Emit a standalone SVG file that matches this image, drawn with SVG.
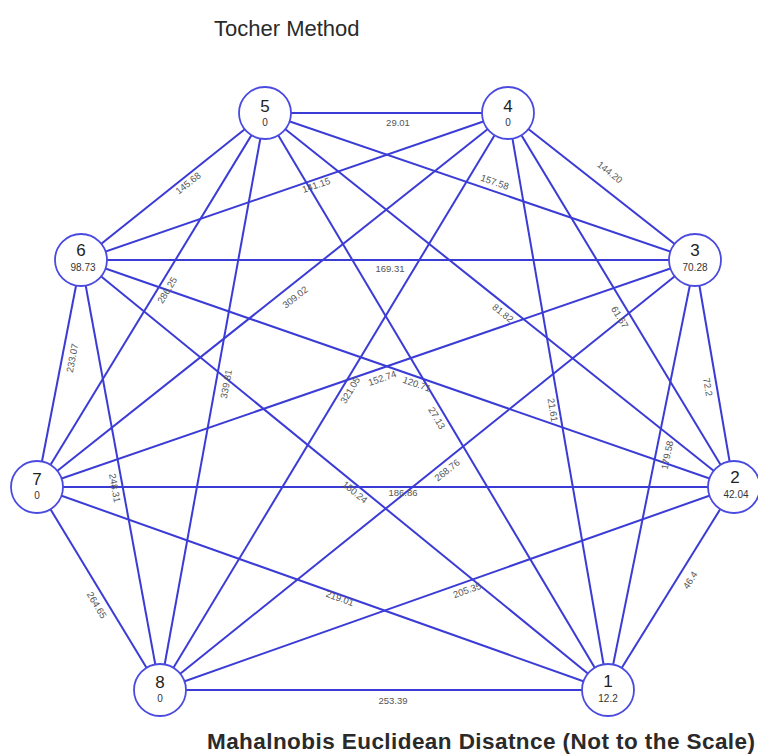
<svg xmlns="http://www.w3.org/2000/svg" width="758" height="755" viewBox="0 0 758 755">
<style>
.e{stroke:#3b3bd6;stroke-width:2;fill:none}
.n{fill:#fff;stroke:#4a4ae0;stroke-width:1.8}
.num{font-family:"Liberation Sans",Arial,sans-serif;font-size:17px;fill:#222;text-anchor:middle}
.val{font-family:"Liberation Sans",Arial,sans-serif;font-size:10px;fill:#333;text-anchor:middle}
.el{font-family:"Liberation Sans",Arial,sans-serif;font-size:9.5px;fill:#555;text-anchor:middle;dominant-baseline:central}
.t{font-family:"Liberation Sans",Arial,sans-serif;fill:#2a2a2a}
</style>
<rect width="758" height="755" fill="#fff"/>
<text class="t" x="214" y="36" font-size="22">Tocher Method</text>
<g id="connectors">
<line class="e" x1="265" y1="113" x2="508" y2="113"/>
<line class="e" x1="265" y1="113" x2="81" y2="260"/>
<line class="e" x1="508" y1="113" x2="81" y2="260"/>
<line class="e" x1="265" y1="113" x2="695" y2="260"/>
<line class="e" x1="508" y1="113" x2="695" y2="260"/>
<line class="e" x1="81" y1="260" x2="695" y2="260"/>
<line class="e" x1="81" y1="260" x2="37" y2="487"/>
<line class="e" x1="265" y1="113" x2="37" y2="487"/>
<line class="e" x1="265" y1="113" x2="160" y2="690"/>
<line class="e" x1="508" y1="113" x2="37" y2="487"/>
<line class="e" x1="608" y1="690" x2="734" y2="487"/>
<line class="e" x1="734" y1="487" x2="695" y2="260"/>
<line class="e" x1="608" y1="690" x2="695" y2="260"/>
<line class="e" x1="608" y1="690" x2="508" y2="113"/>
<line class="e" x1="734" y1="487" x2="508" y2="113"/>
<line class="e" x1="734" y1="487" x2="265" y2="113"/>
<line class="e" x1="608" y1="690" x2="265" y2="113"/>
<line class="e" x1="608" y1="690" x2="81" y2="260"/>
<line class="e" x1="608" y1="690" x2="37" y2="487"/>
<line class="e" x1="734" y1="487" x2="81" y2="260"/>
<line class="e" x1="734" y1="487" x2="37" y2="487"/>
<line class="e" x1="734" y1="487" x2="160" y2="690"/>
<line class="e" x1="695" y1="260" x2="37" y2="487"/>
<line class="e" x1="695" y1="260" x2="160" y2="690"/>
<line class="e" x1="508" y1="113" x2="160" y2="690"/>
<line class="e" x1="81" y1="260" x2="160" y2="690"/>
<line class="e" x1="37" y1="487" x2="160" y2="690"/>
<line class="e" x1="608" y1="690" x2="160" y2="690"/>
</g>
<g id="edge-labels">
<text class="el" transform="translate(398,122)">29.01</text>
<text class="el" transform="translate(188,183) rotate(-38.8)">145.68</text>
<text class="el" transform="translate(316,185) rotate(-19.2)">141.15</text>
<text class="el" transform="translate(495,182) rotate(19)">157.58</text>
<text class="el" transform="translate(610,172) rotate(38.5)">144.20</text>
<text class="el" transform="translate(390,268)">169.31</text>
<text class="el" transform="translate(72,358) rotate(-78.9)">233.07</text>
<text class="el" transform="translate(167,290) rotate(-58.6)">286.25</text>
<text class="el" transform="translate(226,384) rotate(-79.7)">339.81</text>
<text class="el" transform="translate(295,297) rotate(-38.4)">309.02</text>
<text class="el" transform="translate(690,580) rotate(-57.2)">46.4</text>
<text class="el" transform="translate(708,387) rotate(80.2)">72.2</text>
<text class="el" transform="translate(667,455) rotate(-77.9)">179.58</text>
<text class="el" transform="translate(553,410) rotate(80.7)">21.61</text>
<text class="el" transform="translate(620,317) rotate(58.9)">61.67</text>
<text class="el" transform="translate(503,313) rotate(38.6)">81.82</text>
<text class="el" transform="translate(437,418) rotate(59.6)">27.13</text>
<text class="el" transform="translate(355,492) rotate(39.4)">150.24</text>
<text class="el" transform="translate(340,598) rotate(19.8)">219.01</text>
<text class="el" transform="translate(417,384) rotate(19.1)">120.71</text>
<text class="el" transform="translate(403,492)">186.86</text>
<text class="el" transform="translate(467,590) rotate(-19.5)">205.35</text>
<text class="el" transform="translate(382,378) rotate(-18.9)">152.74</text>
<text class="el" transform="translate(447,470) rotate(-38.7)">268.76</text>
<text class="el" transform="translate(350,390) rotate(-58.9)">321.05</text>
<text class="el" transform="translate(115,488) rotate(79.6)">248.31</text>
<text class="el" transform="translate(97,605) rotate(58.9)">264.65</text>
<text class="el" transform="translate(393,700)">253.39</text>
</g>
<g id="node-5"><circle class="n" cx="265" cy="113" r="26"/><text class="num" x="265" y="112">5</text><text class="val" x="265" y="126">0</text></g>
<g id="node-4"><circle class="n" cx="508" cy="113" r="26"/><text class="num" x="508" y="112">4</text><text class="val" x="508" y="126">0</text></g>
<g id="node-6"><circle class="n" cx="81" cy="260" r="26"/><text class="num" x="81" y="256">6</text><text class="val" x="83" y="271">98.73</text></g>
<g id="node-3"><circle class="n" cx="695" cy="260" r="26"/><text class="num" x="695" y="256">3</text><text class="val" x="695" y="271">70.28</text></g>
<g id="node-7"><circle class="n" cx="37" cy="487" r="26"/><text class="num" x="37" y="485">7</text><text class="val" x="37" y="499">0</text></g>
<g id="node-2"><circle class="n" cx="734" cy="487" r="26"/><text class="num" x="735" y="483">2</text><text class="val" x="736" y="498">42.04</text></g>
<g id="node-8"><circle class="n" cx="160" cy="690" r="26"/><text class="num" x="160" y="688">8</text><text class="val" x="160" y="702">0</text></g>
<g id="node-1"><circle class="n" cx="608" cy="690" r="26"/><text class="num" x="608" y="687">1</text><text class="val" x="608" y="702">12.2</text></g>
<text class="t" x="207" y="749" font-size="22.5" font-weight="bold" textLength="548">Mahalnobis Euclidean Disatnce (Not to the Scale)</text>
</svg>
